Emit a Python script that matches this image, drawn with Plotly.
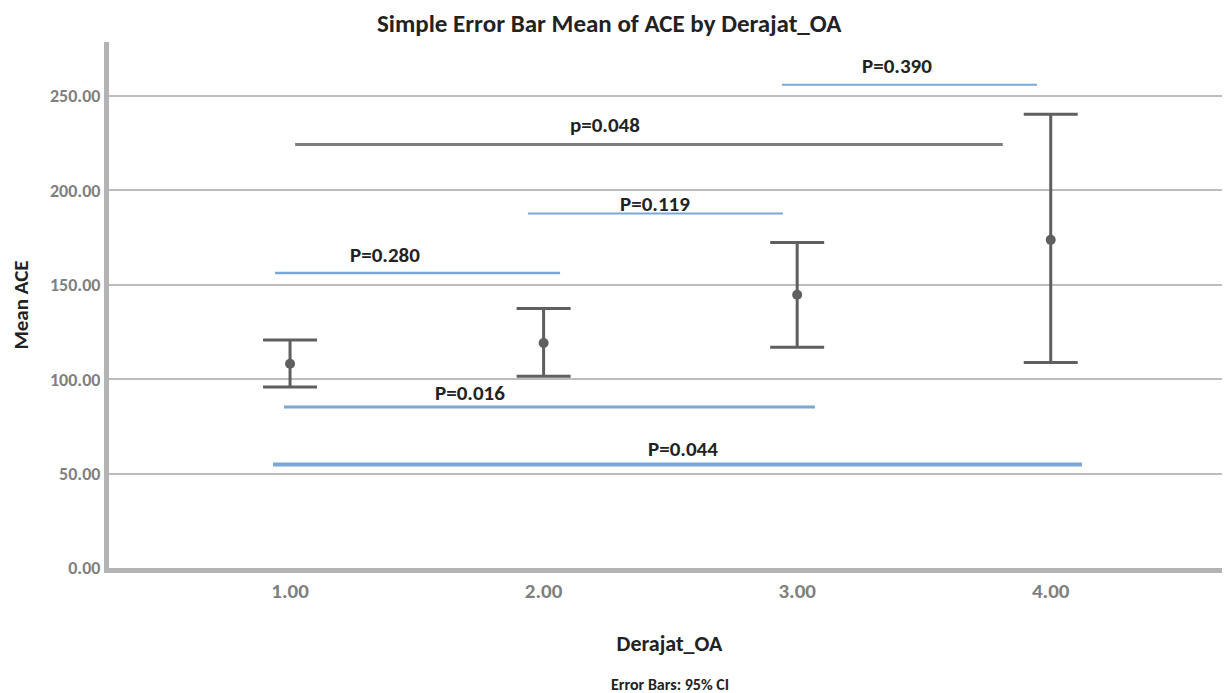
import plotly.graph_objects as go

categories = [1, 2, 3, 4]
tick_labels = ["1.00", "2.00", "3.00", "4.00"]
means = [108.2, 119.2, 144.7, 173.8]
ci_upper = [120.8, 137.5, 172.4, 240.3]
ci_lower = [95.9, 101.5, 116.9, 108.8]

# comparison lines: label, x start, x end, y level, label x, label y
cmp_labels = ["P=0.280", "P=0.119", "p=0.048", "P=0.390", "P=0.016", "P=0.044"]
cmp_x0 = [0.941, 1.938, 1.020, 2.940, 0.976, 0.933]
cmp_x1 = [2.065, 2.944, 3.811, 3.946, 3.070, 4.123]
cmp_y = [156.2, 187.8, 224.3, 256.0, 85.3, 54.8]
cmp_lx = [1.374, 2.438, 2.242, 3.394, 1.710, 2.550]
cmp_ly = [165.6, 192.8, 234.7, 265.9, 92.9, 63.2]
cmp_color = ["#7ba7d6", "#7ba7d6", "#7f7f7f", "#7ba7d6", "#7ba7d6", "#7ba7d6"]
cmp_width = [2.5, 2, 3, 2, 3, 4]

FONT = "Carlito, Lato, sans-serif"

fig = go.Figure()

for i in range(len(cmp_labels)):
    fig.add_trace(go.Scatter(
        x=[cmp_x0[i], cmp_x1[i]], y=[cmp_y[i], cmp_y[i]],
        mode="lines", line=dict(color=cmp_color[i], width=cmp_width[i]),
        showlegend=False, hoverinfo="skip"))
    fig.add_annotation(x=cmp_lx[i], y=cmp_ly[i], text="<b>%s</b>" % cmp_labels[i],
                       showarrow=False, font=dict(family=FONT, size=21, color="#222222"))

fig.add_trace(go.Scatter(
    x=categories, y=means, mode="markers",
    marker=dict(color="#5f5f5f", size=10),
    error_y=dict(type="data", symmetric=False,
                 array=[u - m for u, m in zip(ci_upper, means)],
                 arrayminus=[m - l for m, l in zip(means, ci_lower)],
                 color="#5f5f5f", thickness=3, width=27),
    showlegend=False))

fig.update_layout(
    width=1222, height=685,
    margin=dict(l=101, r=0, t=34, b=125),
    plot_bgcolor="white", paper_bgcolor="white",
    title=dict(text="<b>Simple Error Bar Mean of ACE by Derajat_OA</b>",
               x=0.492, xanchor="center", y=0.978, yanchor="middle",
               font=dict(family=FONT, size=25, color="#222222")),
    font=dict(family=FONT),
)

fig.update_xaxes(
    range=[0.286, 4.707], tickmode="array", tickvals=categories,
    ticktext=["<b>%s</b>" % t for t in tick_labels],
    tickfont=dict(family=FONT, size=21, color="#7f7f7f"),
    showgrid=False, zeroline=False, showline=True, linecolor="#b3b3b3", linewidth=5,
    ticks="", ticklen=0,
    title=dict(text="<b>Derajat_OA</b>", font=dict(family=FONT, size=22, color="#222222"),
               standoff=34),
)
fig.update_yaxes(
    range=[0, 278.6], tickmode="array", tickvals=[0, 50, 100, 150, 200, 250],
    ticktext=["<b>%s</b>" % t for t in ["0.00", "50.00", "100.00", "150.00", "200.00", "250.00"]],
    tickfont=dict(family=FONT, size=18, color="#7f7f7f"),
    showgrid=True, gridcolor="#bdbdbd", gridwidth=2, zeroline=False,
    showline=True, linecolor="#b3b3b3", linewidth=5, ticks="", ticklen=0,
    title=dict(text="<b>Mean ACE</b>", font=dict(family=FONT, size=21, color="#222222"),
               standoff=20),
)

fig.add_annotation(xref="paper", yref="paper", x=0.5, y=-0.222, yanchor="middle",
                   text="<b>Error Bars: 95% CI</b>", showarrow=False,
                   font=dict(family=FONT, size=16, color="#222222"))

fig.write_html("out.html")
